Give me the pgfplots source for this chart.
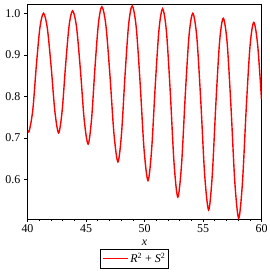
\documentclass[border=0pt]{standalone}
\usepackage{pgfplots}
\pgfplotsset{compat=1.18}
\usepackage{fontspec}
\setmainfont{Liberation Serif}
\begin{document}
\fontsize{12}{14}\selectfont
\begin{tikzpicture}
\useasboundingbox (-27.5bp,-55bp) rectangle (242.5bp,219bp);
\begin{axis}[
  scale only axis,
  width=234bp, height=214.7bp,
  xmin=40, xmax=60, ymin=0.504, ymax=1.0227,
  xtick={40,45,50,55,60},
  ytick={0.6,0.7,0.8,0.9,1.0},
  minor x tick num=4,
  tick align=outside,
  xtick pos=left, ytick pos=left,
  major tick length=3bp, minor tick length=2bp,
  tick style={black, line width=0.5pt},
  axis line style={black, line width=0.8pt},
  yticklabel style={/pgf/number format/.cd, fixed, fixed zerofill, precision=1},
  xticklabel style={yshift=1.5bp},
  /pgf/number format/assume math mode=true,
  ticklabel style={font=\fontsize{12}{14}\selectfont},
  xlabel={\textit{x}},
  xlabel style={at={(axis description cs:0.5,0)}, anchor=center, yshift=-23.5bp},
  legend style={at={(0.458,-0.185)}, anchor=center, draw=black, line width=0.8pt,
    font=\fontsize{12}{14}\selectfont, inner sep=1.5pt},
  legend cell align=left,
  legend image code/.code={\draw[#1, line width=1.4pt] (0bp,0bp) -- (25bp,0bp);},
]
\addplot[red, line width=1.4pt, smooth] coordinates {
(40.00,0.718) (40.15,0.717)
(40.455,0.768) (40.76,0.876) (41.065,0.967) (41.37,1.001)
(41.69,0.966) (42.015,0.874) (42.34,0.764) (42.66,0.712)
(42.96,0.765) (43.26,0.877) (43.56,0.972) (43.86,1.007)
(44.19,0.968) (44.52,0.865) (44.85,0.743) (45.18,0.685)
(45.475,0.745) (45.77,0.871) (46.065,0.977) (46.36,1.017)
(46.70,0.972) (47.045,0.852) (47.39,0.710) (47.73,0.642)
(48.035,0.710) (48.34,0.853) (48.645,0.974) (48.95,1.019)
(49.29,0.968) (49.625,0.833) (49.96,0.673) (50.30,0.597)
(50.61,0.672) (50.925,0.829) (51.24,0.962) (51.55,1.012)
(51.875,0.957) (52.20,0.812) (52.525,0.639) (52.85,0.557)
(53.17,0.637) (53.49,0.806) (53.81,0.948) (54.13,1.001)
(54.47,0.944) (54.805,0.792) (55.14,0.612) (55.48,0.526)
(55.79,0.609) (56.105,0.785) (56.42,0.933) (56.73,0.989)
(57.06,0.931) (57.39,0.776) (57.72,0.593) (58.05,0.506)
(58.37,0.591) (58.695,0.771) (59.02,0.922) (59.34,0.979)
(59.67,0.925) (60.00,0.793)
};
\addlegendentry{\textit{R}\textsuperscript{2} + \textit{S}\textsuperscript{2}}
\end{axis}
\end{tikzpicture}
\end{document}
